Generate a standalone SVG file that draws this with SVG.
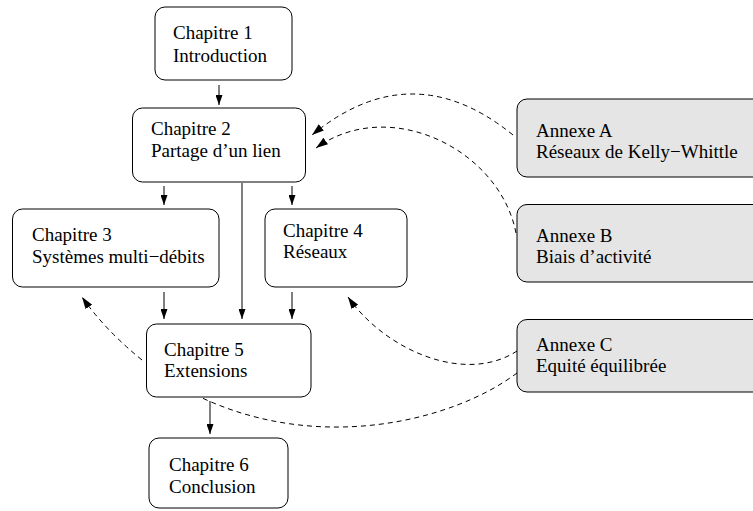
<svg xmlns="http://www.w3.org/2000/svg" width="753" height="511" viewBox="0 0 753 511">
<defs>
<marker id="ah" markerWidth="10" markerHeight="7" refX="10" refY="3.5" orient="auto" markerUnits="userSpaceOnUse">
<path d="M0,0 L10,3.5 L0,7 z" fill="#000"/>
</marker>
<marker id="ahd" markerWidth="12" markerHeight="8" refX="12" refY="4" orient="auto" markerUnits="userSpaceOnUse">
<path d="M0,0 L12,4 L0,8 z" fill="#000"/>
</marker>
<style>
.box{fill:#fff;stroke:#000;stroke-width:1}
.annex{fill:#e5e5e5;stroke:#000;stroke-width:1}
text{font-family:"Liberation Serif","Times New Roman",serif;font-size:19px;fill:#000}
.solid{fill:none;stroke:#000;stroke-width:1;marker-end:url(#ah)}
.dash{fill:none;stroke:#000;stroke-width:1;stroke-dasharray:5,4}
.dasharrow{fill:none;stroke:#000;stroke-width:1;stroke-dasharray:5,4;marker-end:url(#ahd)}
</style>
</defs>
<rect width="753" height="511" fill="#fff"/>
<g id="connectors">
<path class="dasharrow" d="M513,135 Q412,53 312,135"/>
<path class="dasharrow" d="M516,233 C500,150 390,95 316,148"/>
<path class="dasharrow" d="M517,351 C465,385 385,350 348,297"/>
<path class="dash" d="M517,373 C455,420 320,455 198,396"/>
<path class="dasharrow" d="M142,360 Q105,330 82,297"/>
<line class="solid" x1="219" y1="85" x2="219" y2="105"/>
<line class="solid" x1="164" y1="186" x2="164" y2="205"/>
<line class="solid" x1="292" y1="186" x2="292" y2="205"/>
<line class="solid" x1="242" y1="183" x2="242" y2="319"/>
<line class="solid" x1="164" y1="292" x2="164" y2="319"/>
<line class="solid" x1="292" y1="292" x2="292" y2="319"/>
<line class="solid" x1="210" y1="401" x2="210" y2="434"/>
</g>
<g id="ch1"><rect class="box" x="155" y="7" width="137" height="73" rx="10"/><text x="173" y="39">Chapitre 1</text><text x="173" y="62">Introduction</text></g>
<g id="ch2"><rect class="box" x="132.5" y="108" width="173" height="74" rx="10"/><text x="151" y="135">Chapitre 2</text><text x="151" y="157">Partage d’un lien</text></g>
<g id="ch3"><rect class="box" x="12.5" y="209" width="206.5" height="78" rx="10"/><text x="32" y="241">Chapitre 3</text><text x="32" y="263">Systèmes multi−débits</text></g>
<g id="ch4"><rect class="box" x="265" y="209" width="142" height="78" rx="10"/><text x="283" y="237">Chapitre 4</text><text x="283" y="258">Réseaux</text></g>
<g id="ch5"><rect class="box" x="146.5" y="324" width="164.5" height="73" rx="10"/><text x="164" y="356">Chapitre 5</text><text x="164" y="377">Extensions</text></g>
<g id="ch6"><rect class="box" x="149" y="438" width="139" height="70" rx="10"/><text x="169" y="471">Chapitre 6</text><text x="169" y="493">Conclusion</text></g>
<g id="annexeA"><rect class="annex" x="517" y="99" width="260" height="78" rx="10"/><text x="536" y="136.5">Annexe A</text><text x="536" y="158">Réseaux de Kelly−Whittle</text></g>
<g id="annexeB"><rect class="annex" x="517" y="204.5" width="260" height="77.5" rx="10"/><text x="536" y="241.5">Annexe B</text><text x="536" y="263">Biais d’activité</text></g>
<g id="annexeC"><rect class="annex" x="517" y="319.5" width="260" height="72.5" rx="10"/><text x="536" y="351">Annexe C</text><text x="536" y="372">Equité équilibrée</text></g>
</svg>
